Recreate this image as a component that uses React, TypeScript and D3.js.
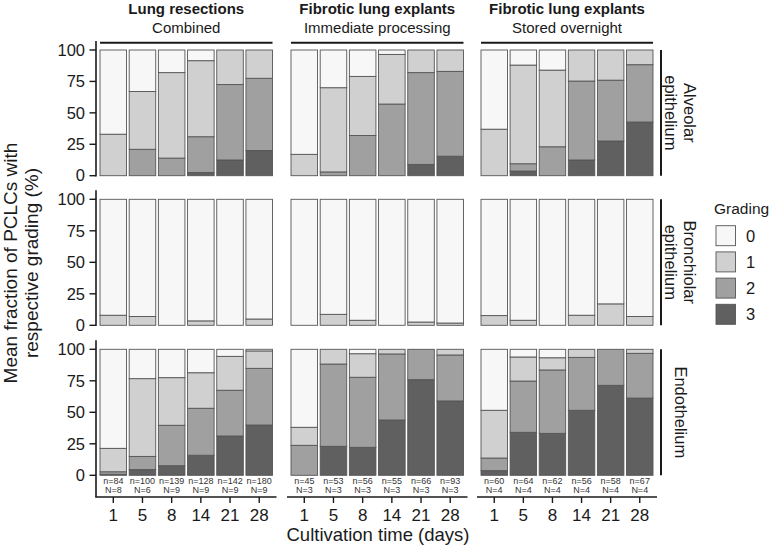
import React from 'react';
import * as d3 from 'd3';

const days = ['1', '5', '8', '14', '21', '28'];
const gradeKeys = ['0', '1', '2', '3'];
const panelTitles = ['Lung resections', 'Fibrotic lung explants', 'Fibrotic lung explants'];
const panelSubtitles = ['Combined', 'Immediate processing', 'Stored overnight'];
const rowLabels = [['Alveolar', 'epithelium'], ['Bronchiolar', 'epithelium'], ['Endothelium']];
const yTicks = [0, 25, 50, 75, 100];

// each entry: [grade 0, grade 1, grade 2, grade 3] (%) per cultivation day
const alveolarCombined = [[67, 33, 0, 0], [33, 46, 21, 0], [18, 68, 14, 0], [8.5, 60.5, 28.5, 2.5], [0, 27.5, 60, 12.5], [0, 22.5, 57.5, 20]];
const alveolarImmediate = [[83, 17, 0, 0], [30, 67, 3, 0], [21, 47, 32, 0], [3.5, 39.5, 57, 0], [0, 18, 73, 9], [0, 17, 67.5, 15.5]];
const alveolarStored = [[63, 37, 0, 0], [12, 78.5, 5.8, 3.7], [16, 61, 23, 0], [0, 24.7, 62.8, 12.5], [0, 24, 48.4, 27.6], [0, 11.7, 45.6, 42.7]];
const bronchiolarCombined = [[92, 8, 0, 0], [93, 7, 0, 0], [100, 0, 0, 0], [96.5, 3.5, 0, 0], [100, 0, 0, 0], [95, 5, 0, 0]];
const bronchiolarImmediate = [[100, 0, 0, 0], [91.3, 8.7, 0, 0], [96, 4, 0, 0], [100, 0, 0, 0], [97.4, 2.6, 0, 0], [98.2, 1.8, 0, 0]];
const bronchiolarStored = [[92.3, 7.7, 0, 0], [96, 4, 0, 0], [100, 0, 0, 0], [92, 8, 0, 0], [83, 17, 0, 0], [93, 7, 0, 0]];
const endoCombined = [[78.6, 18.6, 2, 0.8], [23.3, 61.7, 10.5, 4.5], [22.5, 37.8, 32.1, 7.6], [18.6, 28.2, 37.3, 15.9], [5.6, 26.9, 36.3, 31.2], [1.3, 13.8, 45, 39.9]];
const endoImmediate = [[61.9, 14.3, 23.8, 0], [0, 11.7, 65.3, 23], [3.5, 18.7, 55.6, 22.2], [0, 3.7, 52.4, 43.9], [0, 0, 24.1, 75.9], [0, 4.5, 36.5, 59]];
const endoStored = [[48.4, 37.9, 10, 3.7], [6.1, 19.1, 40.7, 34.1], [6.7, 9.7, 50.3, 33.3], [0, 6.4, 42, 51.6], [0, 0, 28.6, 71.4], [0, 3.2, 35.5, 61.3]];

const nCombined = [84, 100, 139, 128, 142, 180];
const NCombined = [8, 6, 9, 9, 9, 9];
const nImmediate = [45, 53, 56, 55, 66, 93];
const NImmediate = [3, 3, 3, 3, 3, 3];
const nStored = [60, 64, 62, 56, 58, 67];
const NStored = [4, 4, 4, 4, 4, 4];

const gradeColors: Record<string, string> = { '0': '#f7f7f7', '1': '#d0d0d0', '2': '#a0a0a0', '3': '#606060' };

const rowsData = [
  [alveolarCombined, alveolarImmediate, alveolarStored],
  [bronchiolarCombined, bronchiolarImmediate, bronchiolarStored],
  [endoCombined, endoImmediate, endoStored],
];
const nLists = [nCombined, nImmediate, nStored];
const NLists = [NCombined, NImmediate, NStored];

const panelRanges: [number, number][] = [[100, 272.5], [291, 463.5], [481, 653]];
const rowRanges: [number, number][] = [[175.7, 50], [325.3, 199.3], [475.3, 349.3]];
const xAxisY = 497;
const FONT = 'Liberation Sans, Arial, Helvetica, sans-serif';
const INK = '#1a1a1a';

export default function App() {
  const stack = d3.stack<any>().keys(['3', '2', '1', '0']);
  const xScales = panelRanges.map((r) => d3.scaleBand<string>().domain(days).range(r).paddingInner(0.09).paddingOuter(0));
  const yScales = rowRanges.map((r) => d3.scaleLinear().domain([0, 100]).range(r));

  const elements: React.ReactNode[] = [];

  rowsData.forEach((row, ri) => {
    const ys = yScales[ri];
    row.forEach((mat, pi) => {
      const xs = xScales[pi];
      const records = days.map((d, i) => ({ day: d, '0': mat[i][0], '1': mat[i][1], '2': mat[i][2], '3': mat[i][3] }));
      const series = stack(records);
      series.forEach((s) => {
        s.forEach((pt, i) => {
          const h = ys(pt[0]) - ys(pt[1]);
          if (h < 0.05) return;
          elements.push(
            <rect
              key={`b-${ri}-${pi}-${s.key}-${i}`}
              x={xs(records[i].day)!}
              y={ys(pt[1])}
              width={xs.bandwidth()}
              height={h}
              fill={gradeColors[s.key]}
              stroke="#555"
              strokeWidth={0.9}
            />
          );
        });
      });
    });
  });

  return (
    <svg width={774} height={547} style={{ position: 'absolute', left: 0, top: 0, background: '#fff' }} fontFamily={FONT}>
      {/* panel strip titles */}
      {panelRanges.map((r, pi) => {
        const cx = (r[0] + r[1]) / 2;
        return (
          <g key={`strip-${pi}`}>
            <text x={cx} y={13.5} textAnchor="middle" fontSize={15} fontWeight="bold" fill={INK}>{panelTitles[pi]}</text>
            <text x={cx} y={33} textAnchor="middle" fontSize={15} fill={INK}>{panelSubtitles[pi]}</text>
            <line x1={r[0]} x2={r[1]} y1={42.7} y2={42.7} stroke={INK} strokeWidth={2} />
          </g>
        );
      })}

      {elements}

      {/* y axes */}
      {yScales.map((ys, ri) => (
        <g key={`yaxis-${ri}`}>
          <line x1={96} x2={96} y1={ys(100) - 9} y2={ri === 2 ? xAxisY : ys(0) + 0.8} stroke={INK} strokeWidth={1.6} />
          {yTicks.map((t) => (
            <g key={t}>
              <line x1={89.5} x2={96} y1={ys(t)} y2={ys(t)} stroke={INK} strokeWidth={1.4} />
              <text x={85} y={ys(t)} dy="0.35em" textAnchor="end" fontSize={16.5} fill={INK}>{t}</text>
            </g>
          ))}
        </g>
      ))}

      {/* n / N labels */}
      {xScales.map((xs, pi) => (
        <g key={`nlab-${pi}`}>
          {days.map((d, i) => {
            const cx = xs(d)! + xs.bandwidth() / 2;
            return (
              <g key={d}>
                <text x={cx} y={483.5} textAnchor="middle" fontSize={9} fill="#333">{`n=${nLists[pi][i]}`}</text>
                <text x={cx} y={492.5} textAnchor="middle" fontSize={9} fill="#333">{`N=${NLists[pi][i]}`}</text>
              </g>
            );
          })}
        </g>
      ))}

      {/* x axes */}
      {xScales.map((xs, pi) => {
        const [a, b] = xs.range();
        return (
          <g key={`xaxis-${pi}`}>
            <line x1={pi === 0 ? 95.2 : a - 4} x2={b + 4} y1={xAxisY} y2={xAxisY} stroke={INK} strokeWidth={1.6} />
            {days.map((d) => {
              const cx = xs(d)! + xs.bandwidth() / 2;
              return (
                <g key={d}>
                  <line x1={cx} x2={cx} y1={xAxisY} y2={xAxisY + 6} stroke={INK} strokeWidth={1.4} />
                  <text x={cx} y={521} textAnchor="middle" fontSize={17} fill={INK}>{d}</text>
                </g>
              );
            })}
          </g>
        );
      })}

      <text x={378} y={541} textAnchor="middle" fontSize={18.5} fill={INK}>Cultivation time (days)</text>

      {/* y title */}
      <g transform="translate(17,263) rotate(-90)">
        <text x={0} y={0} textAnchor="middle" fontSize={19} fill={INK}>Mean fraction of PCLCs with</text>
        <text x={0} y={21} textAnchor="middle" fontSize={19} fill={INK}>respective grading (%)</text>
      </g>

      {/* row strips */}
      {yScales.map((ys, ri) => {
        const cy = (ys(0) + ys(100)) / 2;
        const lines = rowLabels[ri];
        return (
          <g key={`rstrip-${ri}`}>
            <line x1={661} x2={661} y1={ys(100)} y2={ys(0)} stroke={INK} strokeWidth={2} />
            {lines.length === 2 ? (
              <>
                <text transform={`translate(684,${cy}) rotate(90)`} textAnchor="middle" fontSize={16.5} fill={INK}>{lines[0]}</text>
                <text transform={`translate(665,${cy}) rotate(90)`} textAnchor="middle" fontSize={16.5} fill={INK}>{lines[1]}</text>
              </>
            ) : (
              <text transform={`translate(674.5,${cy}) rotate(90)`} textAnchor="middle" fontSize={16.5} fill={INK}>{lines[0]}</text>
            )}
          </g>
        );
      })}

      {/* legend */}
      <g>
        <text x={714} y={213.5} fontSize={15.5} fill={INK}>Grading</text>
        {gradeKeys.map((g, i) => (
          <g key={g}>
            <rect x={716} y={225.7 + i * 26.2} width={19.5} height={20} fill={gradeColors[g]} stroke="#555" strokeWidth={0.9} />
            <text x={746} y={225.7 + i * 26.2 + 10} dy="0.36em" fontSize={16.5} fill={INK}>{g}</text>
          </g>
        ))}
      </g>
    </svg>
  );
}
